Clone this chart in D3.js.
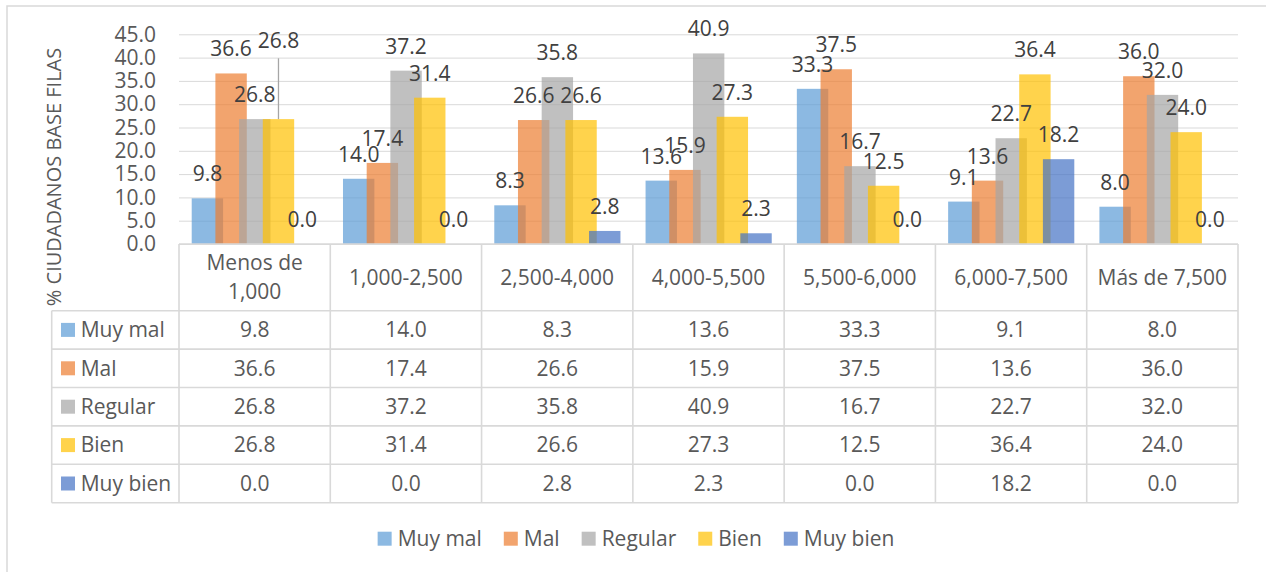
<!DOCTYPE html>
<html>
<head>
<meta charset="utf-8">
<script src="https://cdnjs.cloudflare.com/ajax/libs/d3/7.8.5/d3.min.js"></script>
<style>
  body { margin: 0; background: #fff; }
  text { font-family: "Open Sans", "Noto Sans", sans-serif; }
</style>
</head>
<body>
<div id="chart"></div>
<script>
// data
var categories = ["Menos de 1,000", "1,000-2,500", "2,500-4,000", "4,000-5,500", "5,500-6,000", "6,000-7,500", "Más de 7,500"];
var seriesNames = ["Muy mal", "Mal", "Regular", "Bien", "Muy bien"];
var muyMal  = [9.8, 14.0, 8.3, 13.6, 33.3, 9.1, 8.0];
var mal     = [36.6, 17.4, 26.6, 15.9, 37.5, 13.6, 36.0];
var regular = [26.8, 37.2, 35.8, 40.9, 16.7, 22.7, 32.0];
var bien    = [26.8, 31.4, 26.6, 27.3, 12.5, 36.4, 24.0];
var muyBien = [0.0, 0.0, 2.8, 2.3, 0.0, 18.2, 0.0];
var yTicks = [0, 5, 10, 15, 20, 25, 30, 35, 40, 45];
var yTitle = "% CIUDADANOS BASE FILAS";

var colors = ["#5B9BD5", "#ED7D31", "#A5A5A5", "#FFC000", "#4472C4"];
var values = [muyMal, mal, regular, bien, muyBien];

const W = 1266, H = 572;
const plot = {left: 179, right: 1238, top: 34.3, bottom: 244};
const keyLeft = 51.7, headerH = 66.7, rowH = 38.4;
const fontSize = 21;
const textColor = "#595959", labelColor = "#404040", lineColor = "#d9d9d9";

var svg = d3.select("#chart").append("svg")
  .attr("width", W)
  .attr("height", H);

// outer chart frame (right/bottom edges fall outside the picture)
svg.append("rect")
  .attr("x", 7).attr("y", 6)
  .attr("width", W + 20).attr("height", H + 20)
  .style("fill", "#fff")
  .style("stroke", lineColor)
  .style("stroke-width", "1.5px");

var xScale = d3.scaleBand().domain(categories).range([plot.left, plot.right]);
var yScale = d3.scaleLinear().domain([0, 45]).range([plot.bottom, plot.top]);
var bw = xScale.bandwidth();
var barW = bw * 0.2075;
var xInner = d3.scaleLinear().domain([0, 4]).range([bw * 0.084, bw * 0.084 + 4 * bw * 0.1566]);

// gridlines
var grid = svg.append("g")
  .attr("transform", "translate(" + plot.left + ",0)")
  .call(d3.axisLeft(yScale).tickValues(yTicks).tickSize(-(plot.right - plot.left)).tickFormat(""));
grid.select(".domain").remove();
grid.selectAll("line").style("stroke", lineColor).style("stroke-width", "1px");

// y tick labels
var yAx = svg.append("g")
  .attr("transform", "translate(" + 156 + ",0)")
  .call(d3.axisLeft(yScale).tickValues(yTicks).tickSize(0).tickPadding(0).tickFormat(d3.format(".1f")));
yAx.select(".domain").remove();
yAx.selectAll("text")
  .style("font-size", fontSize + "px")
  .style("fill", textColor)
  .style("font-family", '"Open Sans", sans-serif');

svg.append("text")
  .attr("transform", "translate(" + 61 + "," + 177 + ") rotate(-90)")
  .attr("text-anchor", "middle")
  .style("font-size", "20px")
  .style("fill", textColor)
  .text(yTitle);

// bars
values.forEach(function(vals, s) {
  var g = svg.append("g");
  g.selectAll("rect")
    .data(vals)
    .enter().append("rect")
      .attr("x", function(d, i) { return xScale(categories[i]) + xInner(s); })
      .attr("y", function(d) { return yScale(d); })
      .attr("width", barW)
      .attr("height", function(d) { return yScale(0) - yScale(d); })
      .style("fill", colors[s])
      .style("fill-opacity", 0.7);
});

// data labels (the "Bien" label of the first group was dragged up in the original)
values.forEach(function(vals, s) {
  vals.forEach(function(d, i) {
    var cx = xScale(categories[i]) + xInner(s) + barW / 2;
    var base = yScale(d) - 17;
    if (s == 3 && i == 0) {
      base = 48.3;
      svg.append("line")
        .attr("x1", cx).attr("x2", cx)
        .attr("y1", base + 10).attr("y2", yScale(d))
        .style("stroke", "#a6a6a6")
        .style("stroke-width", "1.3px");
    }
    svg.append("text")
      .attr("x", cx)
      .attr("y", base)
      .attr("text-anchor", "middle")
      .style("font-size", fontSize + "px")
      .style("fill", labelColor)
      .text(d.toFixed(1));
  });
});

// data table
var tTop = plot.bottom;
var hdrBottom = tTop + headerH;
var tBottom = hdrBottom + rowH * seriesNames.length;
var tbl = svg.append("g").style("stroke", lineColor).style("stroke-width", "1.6px");

tbl.append("line").attr("x1", plot.left).attr("x2", plot.right).attr("y1", tTop).attr("y2", tTop);
for (var r = 0; r <= seriesNames.length; r++) {
  tbl.append("line")
    .attr("x1", keyLeft).attr("x2", plot.right)
    .attr("y1", hdrBottom + r * rowH).attr("y2", hdrBottom + r * rowH);
}
for (var k = 0; k <= categories.length; k++) {
  var xx = plot.left + k * bw;
  tbl.append("line").attr("x1", xx).attr("x2", xx).attr("y1", tTop).attr("y2", tBottom);
}
tbl.append("line").attr("x1", keyLeft).attr("x2", keyLeft).attr("y1", hdrBottom).attr("y2", tBottom);

// header labels, wrapped when too wide for the cell
categories.forEach(function(c) {
  var t = svg.append("text")
    .attr("text-anchor", "middle")
    .style("font-size", fontSize + "px")
    .style("fill", textColor);
  var cx = xScale(c) + bw / 2;
  var cy = (tTop + hdrBottom) / 2;
  t.text(c);
  if (t.node().getComputedTextLength() > bw - 8) {
    var words = c.split(" ");
    var lines = [words.slice(0, -1).join(" "), words[words.length - 1]];
    t.text(null);
    lines.forEach(function(l, j) {
      t.append("tspan").attr("x", cx).attr("y", cy + (j - 0.5) * 29.4).attr("dy", "0.35em").text(l);
    });
  } else {
    t.attr("x", cx).attr("y", cy).attr("dy", "0.35em");
  }
});

// rows
seriesNames.forEach(function(name, s) {
  var cy = hdrBottom + s * rowH + rowH / 2;
  svg.append("rect")
    .attr("x", 61).attr("y", cy - 7)
    .attr("width", 14).attr("height", 14)
    .style("fill", colors[s]).style("fill-opacity", 0.7);
  svg.append("text")
    .attr("x", 80.7).attr("y", cy).attr("dy", "0.35em")
    .style("font-size", fontSize + "px")
    .style("fill", textColor)
    .text(name);
  values[s].forEach(function(d, i) {
    svg.append("text")
      .attr("x", xScale(categories[i]) + bw / 2)
      .attr("y", cy).attr("dy", "0.35em")
      .attr("text-anchor", "middle")
      .style("font-size", fontSize + "px")
      .style("fill", textColor)
      .text(d.toFixed(1));
  });
});

// legend at the bottom
var legend = svg.append("g");
var lx = 0;
seriesNames.forEach(function(name, s) {
  var item = legend.append("g").attr("transform", "translate(" + lx + ",0)");
  item.append("rect")
    .attr("x", 0).attr("y", -7)
    .attr("width", 14).attr("height", 14)
    .style("fill", colors[s]).style("fill-opacity", 0.7);
  var t = item.append("text")
    .attr("x", 20).attr("dy", "0.35em")
    .style("font-size", fontSize + "px")
    .style("fill", textColor)
    .text(name);
  lx += 20 + t.node().getComputedTextLength() + 22;
});
lx -= 22;
legend.attr("transform", "translate(" + (636 - lx / 2) + "," + 538.7 + ")");
</script>
</body>
</html>
